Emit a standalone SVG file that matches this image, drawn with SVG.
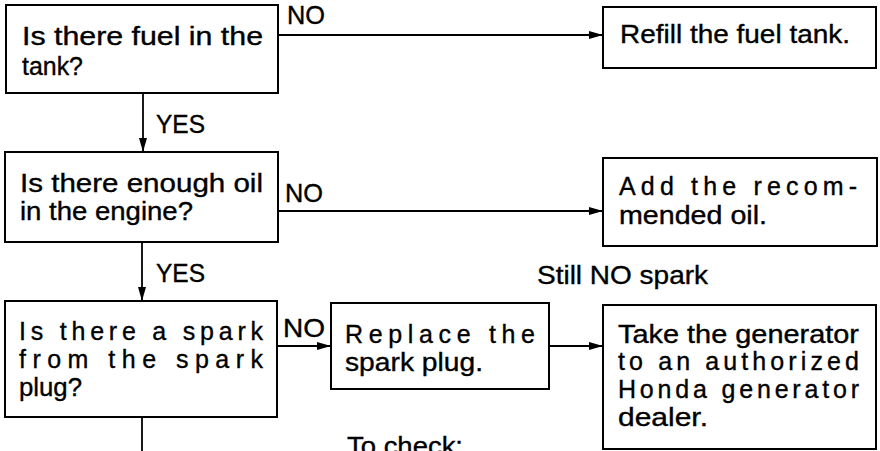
<svg xmlns="http://www.w3.org/2000/svg" width="880" height="451" viewBox="0 0 880 451">
<style>
rect.box{fill:#fff;stroke:#000;stroke-width:2}
text{font-family:"Liberation Sans",Arial,sans-serif;font-size:25px;fill:#000;stroke:#000;stroke-width:0.35}
.conn line{stroke:#000;stroke-width:1.8}
</style>
<defs>
<marker id="ah" markerUnits="userSpaceOnUse" markerWidth="14" markerHeight="8" refX="14" refY="4" orient="auto">
<path d="M0,0 L14,4 L0,8 z" fill="#000"/>
</marker>
</defs>
<rect width="880" height="451" fill="#fff"/>
<g class="conn" id="connectors">
<line x1="278" y1="35" x2="603" y2="35" marker-end="url(#ah)"/>
<line x1="143" y1="93" x2="143" y2="152" marker-end="url(#ah)"/>
<line x1="278" y1="211" x2="603" y2="211" marker-end="url(#ah)"/>
<line x1="142" y1="242" x2="142" y2="301" marker-end="url(#ah)"/>
<line x1="277" y1="346" x2="331" y2="346" marker-end="url(#ah)"/>
<line x1="549" y1="346" x2="603" y2="346" marker-end="url(#ah)"/>
<line x1="142" y1="417" x2="142" y2="451"/>
<text x="287" y="24" textLength="38" lengthAdjust="spacingAndGlyphs">NO</text>
<text x="156" y="133" textLength="49" lengthAdjust="spacingAndGlyphs">YES</text>
<text x="285" y="202" textLength="38" lengthAdjust="spacingAndGlyphs">NO</text>
<text x="156" y="282" textLength="49" lengthAdjust="spacingAndGlyphs">YES</text>
<text x="283" y="337" textLength="42" lengthAdjust="spacingAndGlyphs">NO</text>
<text x="537" y="284" textLength="171" lengthAdjust="spacingAndGlyphs">Still NO spark</text>
<text x="347" y="455" textLength="116" lengthAdjust="spacingAndGlyphs">To check:</text>
</g>
<g id="q-fuel">
<rect class="box" x="6" y="5" width="272" height="88"/>
<text x="22" y="45" textLength="241" lengthAdjust="spacingAndGlyphs">Is there fuel in the</text>
<text x="22" y="75" textLength="61" lengthAdjust="spacingAndGlyphs">tank?</text>
</g>
<g id="a-refill">
<rect class="box" x="603" y="7" width="273" height="61"/>
<text x="620" y="43" textLength="230" lengthAdjust="spacingAndGlyphs">Refill the fuel tank.</text>
</g>
<g id="q-oil">
<rect class="box" x="5" y="152" width="273" height="90"/>
<text x="20" y="192" textLength="243" lengthAdjust="spacingAndGlyphs">Is there enough oil</text>
<text x="20" y="220" textLength="173" lengthAdjust="spacingAndGlyphs">in the engine?</text>
</g>
<g id="a-oil">
<rect class="box" x="603" y="158" width="274" height="88"/>
<text x="619" y="195" textLength="238" lengthAdjust="spacing">Add the recom-</text>
<text x="619" y="224" textLength="148" lengthAdjust="spacingAndGlyphs">mended oil.</text>
</g>
<g id="q-spark">
<rect class="box" x="5" y="301" width="272" height="116"/>
<text x="19" y="340" textLength="244" lengthAdjust="spacing">Is there a spark</text>
<text x="19" y="368" textLength="244" lengthAdjust="spacing">from the spark</text>
<text x="19" y="396" textLength="63" lengthAdjust="spacingAndGlyphs">plug?</text>
</g>
<g id="a-replace">
<rect class="box" x="331" y="303" width="218" height="86"/>
<text x="345" y="343" textLength="190" lengthAdjust="spacing">Replace the</text>
<text x="345" y="371" textLength="138" lengthAdjust="spacingAndGlyphs">spark plug.</text>
</g>
<g id="a-dealer">
<rect class="box" x="603" y="305" width="273" height="144"/>
<text x="618" y="343" textLength="241" lengthAdjust="spacingAndGlyphs">Take the generator</text>
<text x="618" y="370" textLength="241" lengthAdjust="spacing">to an authorized</text>
<text x="618" y="398" textLength="241" lengthAdjust="spacing">Honda generator</text>
<text x="618" y="426" textLength="90" lengthAdjust="spacingAndGlyphs">dealer.</text>
</g>
</svg>
